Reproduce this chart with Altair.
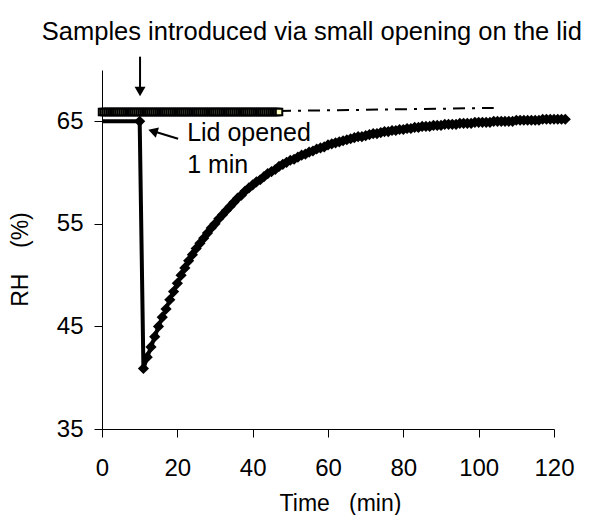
import altair as alt
import pandas as pd

# ---- data ----
# RH after opening the lid (diamonds), one reading per minute
time_lid = list(range(0, 124))
rh_lid = [
    65.0, 65.0, 65.0, 65.0, 65.0, 65.0, 65.0, 65.0, 65.0, 65.0, 65.0,   # 0-10
    40.9, 42.0, 43.0, 44.0, 45.0, 45.9, 46.7, 47.6, 48.4, 49.2,         # 11-20
    50.0, 50.7, 51.4, 52.0, 52.6, 53.1, 53.6, 54.1, 54.6, 55.0,         # 21-30
    55.5, 55.9, 56.3, 56.7, 57.1, 57.5, 57.8, 58.2, 58.5, 58.8,         # 31-40
    59.1, 59.3, 59.6, 59.9, 60.1, 60.3, 60.6, 60.8, 61.0, 61.2,         # 41-50
    61.3, 61.5, 61.7, 61.8, 62.0, 62.1, 62.3, 62.4, 62.5, 62.7,         # 51-60
    62.8, 62.9, 63.0, 63.1, 63.2, 63.3, 63.4, 63.5, 63.5, 63.6,         # 61-70
    63.7, 63.8, 63.8, 63.9, 64.0, 64.0, 64.1, 64.1, 64.2, 64.2,         # 71-80
    64.3, 64.3, 64.4, 64.4, 64.5, 64.5, 64.5, 64.6, 64.6, 64.6,         # 81-90
    64.7, 64.7, 64.7, 64.7, 64.8, 64.8, 64.8, 64.8, 64.9, 64.9,         # 91-100
    64.9, 64.9, 64.9, 65.0, 65.0, 65.0, 65.0, 65.0, 65.0, 65.1,         # 101-110
    65.1, 65.1, 65.1, 65.1, 65.1, 65.1, 65.2, 65.2, 65.2, 65.2,         # 111-120
    65.2, 65.2, 65.2,                                                   # 121-123
]

# RH with samples introduced via the small opening (open squares), every 0.5 min
time_small = [i * 0.5 for i in range(0, 95)]
rh_small = [
    65.9, 65.9, 65.9, 65.9, 65.9, 65.9, 65.9, 65.9, 65.9, 65.9,
    65.9, 65.9, 65.9, 65.9, 65.9, 65.9, 65.9, 65.9, 65.9, 65.9,
    65.9, 65.9, 65.9, 65.9, 65.9, 65.9, 65.9, 65.9, 65.9, 65.9,
    65.9, 65.9, 65.9, 65.9, 65.9, 65.9, 65.9, 65.9, 65.9, 65.9,
    65.9, 65.9, 65.9, 65.9, 65.9, 65.9, 65.9, 65.9, 65.9, 65.9,
    65.9, 65.9, 65.9, 65.9, 65.9, 65.9, 65.9, 65.9, 65.9, 65.9,
    65.9, 65.9, 65.9, 65.9, 65.9, 65.9, 65.9, 65.9, 65.9, 65.9,
    65.9, 65.9, 65.9, 65.9, 65.9, 65.9, 65.9, 65.9, 65.9, 65.9,
    65.9, 65.9, 65.9, 65.9, 65.9, 65.9, 65.9, 65.9, 65.9, 65.9,
    65.9, 65.9, 65.9, 65.9, 65.9,
]

# dash-dot continuation of the squares series
trend_time = [47, 104]
trend_rh = [66.0, 66.3]

x_ticks = [0, 20, 40, 60, 80, 100, 120]
y_ticks = [35, 45, 55, 65]

FONT = "Liberation Sans"

lid_df = pd.DataFrame({"t": time_lid, "rh": rh_lid})
small_df = pd.DataFrame({"t": time_small, "rh": rh_small})
trend_df = pd.DataFrame({"t": trend_time, "rh": trend_rh})

xscale = alt.Scale(domain=[0, 120], nice=False, zero=False)
yscale = alt.Scale(domain=[35, 70], nice=False, zero=False)

xaxis = alt.Axis(
    values=x_ticks, grid=False, title="Time\u00a0\u00a0\u00a0(min)",
    titleFont=FONT, titleFontSize=23, titleFontWeight="normal", titleColor="black",
    titleX=238, titleY=81, titleBaseline="alphabetic", titleAlign="center",
    labelFont=FONT, labelFontSize=24, labelColor="black", labelPadding=38,
    labelBaseline="alphabetic", labelFlush=False,
    tickSize=8, tickColor="black", domainColor="black", tickWidth=1, domainWidth=1,
)
yaxis = alt.Axis(
    values=y_ticks, grid=False, title="RH\u00a0\u00a0\u00a0\u00a0(%)",
    titleFont=FONT, titleFontSize=23, titleFontWeight="normal", titleColor="black",
    titleX=-75, titleY=189, titleBaseline="alphabetic", titleAlign="center", titleAngle=270,
    labelFont=FONT, labelFontSize=24, labelColor="black", labelPadding=11,
    labelBaseline="middle", labelFlush=False,
    tickSize=8, tickColor="black", domainColor="black", tickWidth=1, domainWidth=1,
)

X = alt.X("t:Q", scale=xscale, axis=xaxis)
Y = alt.Y("rh:Q", scale=yscale, axis=yaxis)

lid_line = alt.Chart(lid_df).mark_line(color="black", strokeWidth=4).encode(x=X, y=Y)
lid_pts = alt.Chart(lid_df).transform_filter("datum.t >= 10").mark_point(
    shape="diamond", filled=True, color="black", size=125, opacity=1
).encode(x="t:Q", y="rh:Q")

small_pts = alt.Chart(small_df).mark_point(
    shape="square", fill="#ffffc0", stroke="black", strokeWidth=2, size=42,
    opacity=1, fillOpacity=1
).encode(x="t:Q", y="rh:Q")

trend_line = alt.Chart(trend_df).mark_line(
    color="black", strokeWidth=2, strokeDash=[12, 7, 3, 7]
).encode(x="t:Q", y="rh:Q")

# arrows (annotation positions in data units)
shafts = pd.DataFrame({
    "t": [10.1, 20.2], "rh": [71.3, 63.3],
    "t2": [10.1, 13.0], "rh2": [67.8, 64.1],
})
shaft_marks = alt.Chart(shafts).mark_rule(color="black", strokeWidth=2).encode(
    x="t:Q", y="rh:Q", x2="t2:Q", y2="rh2:Q"
)
head_down = alt.Chart(pd.DataFrame({"t": [10.1], "rh": [67.9]})).mark_point(
    shape="triangle-down", filled=True, color="black", size=120, opacity=1
).encode(x="t:Q", y="rh:Q")
head_left = alt.Chart(pd.DataFrame({"t": [13.5], "rh": [64.03]})).mark_point(
    shape="triangle-up", angle=287, filled=True, color="black", size=120, opacity=1
).encode(x="t:Q", y="rh:Q")

notes = pd.DataFrame({
    "t": [22.6, 22.6],
    "rh": [63.1, 60.0],
    "txt": ["Lid opened", "1 min"],
})
note_marks = alt.Chart(notes).mark_text(
    align="left", baseline="alphabetic", font=FONT, fontSize=25, color="black"
).encode(x="t:Q", y="rh:Q", text="txt:N")

top_note = alt.Chart(pd.DataFrame({"t": [55.7], "rh": [72.9],
                                   "txt": ["Samples introduced via small opening on the lid"]})).mark_text(
    align="center", baseline="alphabetic", font=FONT, fontSize=25.5, color="black"
).encode(x="t:Q", y="rh:Q", text="txt:N")

chart = alt.layer(
    lid_line, lid_pts, trend_line, small_pts, shaft_marks, head_down, head_left,
    note_marks, top_note
).properties(
    width=452, height=359,
    autosize="none",
    padding={"left": 94, "top": 62, "right": 35, "bottom": 86},
).configure_view(stroke=None)

chart.save("out.html", embed_options={"renderer": "svg", "actions": False})
